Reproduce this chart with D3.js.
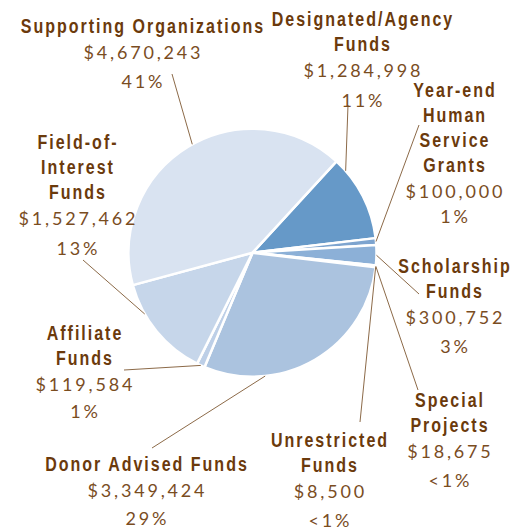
<!DOCTYPE html>
<html>
<head>
<meta charset="utf-8">
<script src="https://cdn.jsdelivr.net/npm/d3@7"></script>
<style>
  html, body { margin: 0; padding: 0; background: #ffffff; }
  svg { display: block; }
  .name { font-family: "Liberation Sans", Arial, sans-serif; font-weight: bold; font-size: 20px; letter-spacing: 2.5px; fill: #6b3a0c; }
  .val { font-family: "Lato", sans-serif; font-weight: 400; font-size: 18px; letter-spacing: 2.8px; fill: #7a4d1f; }
</style>
</head>
<body>
<script>
// ---- data ----
const categories = [
  "Designated/Agency Funds",
  "Year-end Human Service Grants",
  "Scholarship Funds",
  "Special Projects",
  "Unrestricted Funds",
  "Donor Advised Funds",
  "Affiliate Funds",
  "Field-of-Interest Funds",
  "Supporting Organizations"
];
const amounts = [1284998, 100000, 300752, 18675, 8500, 3349424, 119584, 1527462, 4670243];
const amountLabels = ["$1,284,998", "$100,000", "$300,752", "$18,675", "$8,500", "$3,349,424", "$119,584", "$1,527,462", "$4,670,243"];
const percentLabels = ["11%", "1%", "3%", "<1%", "<1%", "29%", "1%", "13%", "41%"];
const nameLines = [
  ["Designated/Agency", "Funds"],
  ["Year-end", "Human", "Service", "Grants"],
  ["Scholarship", "Funds"],
  ["Special", "Projects"],
  ["Unrestricted", "Funds"],
  ["Donor Advised Funds"],
  ["Affiliate", "Funds"],
  ["Field-of-", "Interest", "Funds"],
  ["Supporting Organizations"]
];
const sliceColors = ["#6699c8", "#7da4cf", "#8cb0d7", "#9ab9dc", "#a3bedd", "#abc3df", "#bdcfe7", "#c6d6ea", "#d9e3f1"];

// ---- layout (label placement) ----
const W = 523, H = 529;
const cx = 252.5, cy = 252.7, R = 124;
const startDeg = 42.6;
const condense = 0.8;
// x centre, first baseline, gap before percent line, outer leader end, anchor fraction in slice
const labelLayout = [
  { x: 362, y: 26,  pGap: 30, lx: 348, ly: 105, f: 0.15 },
  { x: 454, y: 97,  pGap: 25, lx: 419, ly: 125, f: 0.5 },
  { x: 454, y: 273, pGap: 29, lx: 419, ly: 294, f: 0.5 },
  { x: 449, y: 407, pGap: 29, lx: 418, ly: 390, f: 0.5 },
  { x: 329, y: 447, pGap: 29, lx: 360, ly: 422, f: 0.5 },
  { x: 146, y: 471, pGap: 28, lx: 152, ly: 448, f: 0.73 },
  { x: 84,  y: 340, pGap: 27, lx: 124, ly: 370, f: 0.5 },
  { x: 77,  y: 149, pGap: 30, lx: 83,  ly: 260, f: 0.70 },
  { x: 142, y: 33,  pGap: 29, lx: 172, ly: 74,  f: 0.515 }
];

const svg = d3.select("body").append("svg").attr("width", W).attr("height", H);

const a0 = startDeg * Math.PI / 180;
const pie = d3.pie().sort(null).value(d => d).startAngle(a0).endAngle(a0 + 2 * Math.PI);
const arcs = pie(amounts);
const arc = d3.arc().innerRadius(0).outerRadius(R);

const g = svg.append("g").attr("transform", `translate(${cx},${cy})`);
g.selectAll("path.slice").data(arcs).join("path")
  .attr("class", "slice")
  .attr("d", arc)
  .attr("fill", (d, i) => sliceColors[i])
  .attr("stroke", "#ffffff")
  .attr("stroke-width", 2.5)
  .attr("stroke-linejoin", "round");

// leader lines
svg.selectAll("line.leader").data(arcs).join("line")
  .attr("class", "leader")
  .attr("x1", (d, i) => labelLayout[i].lx)
  .attr("y1", (d, i) => labelLayout[i].ly)
  .attr("x2", (d, i) => { const L = labelLayout[i]; const t = d.startAngle + (d.endAngle - d.startAngle) * L.f; return cx + R * Math.sin(t); })
  .attr("y2", (d, i) => { const L = labelLayout[i]; const t = d.startAngle + (d.endAngle - d.startAngle) * L.f; return cy - R * Math.cos(t); })
  .attr("stroke", "#8c6a48")
  .attr("stroke-width", 1);

// labels
categories.forEach((c, i) => {
  const L = labelLayout[i];
  const lines = nameLines[i];
  const nameGap = 25;
  const lab = svg.append("g").attr("class", "label");
  lines.forEach((ln, k) => {
    lab.append("text").attr("class", "name")
      .attr("transform", `translate(${L.x + 1},${L.y + k * nameGap}) scale(${condense},1)`)
      .attr("text-anchor", "middle").text(ln);
  });
  const yv = L.y + (lines.length - 1) * nameGap + 26;
  lab.append("text").attr("class", "val")
    .attr("x", L.x + 1.4).attr("y", yv)
    .attr("text-anchor", "middle").text(amountLabels[i]);
  lab.append("text").attr("class", "val")
    .attr("x", L.x + 1.4).attr("y", yv + L.pGap)
    .attr("text-anchor", "middle").text(percentLabels[i]);
});
</script>
</body>
</html>
